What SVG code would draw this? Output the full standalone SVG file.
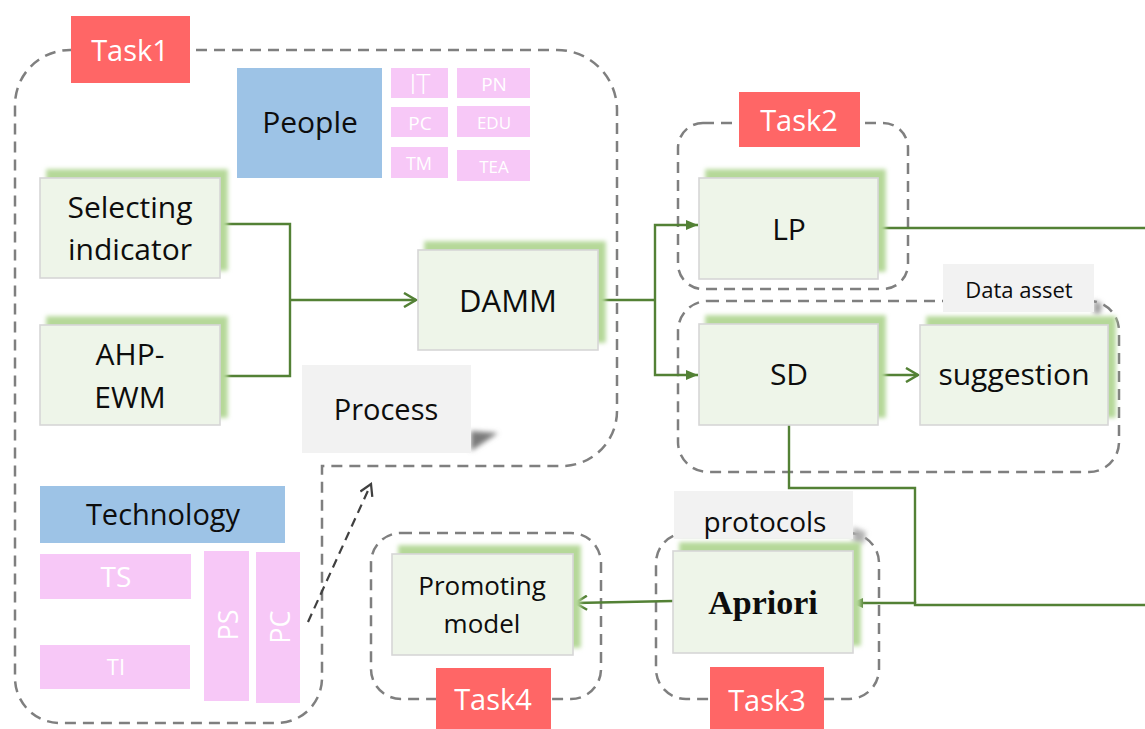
<svg xmlns="http://www.w3.org/2000/svg" width="1145" height="729" viewBox="0 0 1145 729">
  <defs>
    <style>
      .t { font-family: "Open Sans", "Liberation Sans", sans-serif; text-anchor: middle; fill: #0d0d0d; }
      .grp { fill: none; stroke: #7f7f7f; stroke-width: 2.5; stroke-dasharray: 11 7; }
      .box { fill: #eef5e9; stroke: #d6d6d6; stroke-width: 1.6; filter: url(#glow); }
      .tag { fill: #ff6666; }
      .tagtx { font-size: 29px; fill: #ffffff; }
      .blue { fill: #9dc3e6; }
      .pink { fill: #f7c8f7; }
      .pinktx { fill: #ffffff; }
      .note { fill: #f2f2f2; }
      .wire { fill: none; stroke: #538135; stroke-width: 2.4; }
      .big { font-size: 30px; }
    </style>
    <!-- soft green glow offset to the upper right of each step box -->
    <filter id="glow" x="-15%" y="-25%" width="135%" height="150%">
      <feFlood flood-color="#b5d899" result="c"/>
      <feComposite in="c" in2="SourceAlpha" operator="in" result="s"/>
      <feOffset in="s" dx="7" dy="-8" result="o"/>
      <feGaussianBlur in="o" stdDeviation="2" result="b"/>
      <feMerge>
        <feMergeNode in="b"/>
        <feMergeNode in="SourceGraphic"/>
      </feMerge>
    </filter>
    <filter id="soft" x="-50%" y="-50%" width="200%" height="200%">
      <feGaussianBlur stdDeviation="2.5"/>
    </filter>
    <marker id="open" viewBox="0 0 16 16" refX="14" refY="8" markerWidth="16" markerHeight="16" markerUnits="userSpaceOnUse" orient="auto">
      <path d="M2,1 L14,8 L2,15" fill="none" stroke="#538135" stroke-width="2.5"/>
    </marker>
    <marker id="solid" viewBox="0 0 12 12" refX="12" refY="6" markerWidth="13" markerHeight="12" markerUnits="userSpaceOnUse" orient="auto">
      <path d="M0,1 L12,6 L0,11 Z" fill="#538135"/>
    </marker>
    <marker id="gray" viewBox="0 0 16 16" refX="14" refY="8" markerWidth="15" markerHeight="15" markerUnits="userSpaceOnUse" orient="auto">
      <path d="M2,1 L14,8 L2,15" fill="none" stroke="#404040" stroke-width="2.4"/>
    </marker>
  </defs>

  <rect width="1145" height="729" fill="#ffffff"/>

  <!-- dashed task groups -->
  <g id="groups">
    <path class="grp" d="M70,50 H557 A60,60 0 0 1 617,110 V411 A55,55 0 0 1 562,466 H322 V678 A45,45 0 0 1 277,723 H60 A45,45 0 0 1 15,678 V105 A55,55 0 0 1 70,50 Z"/>
    <rect class="grp" x="678" y="123" width="230" height="166" rx="25"/>
    <rect class="grp" x="678" y="301" width="441" height="171" rx="30"/>
    <rect class="grp" x="656" y="533" width="223" height="166" rx="30"/>
    <rect class="grp" x="371" y="533" width="230" height="166" rx="30"/>
  </g>

  <!-- connectors -->
  <g id="connectors">
    <path class="wire" d="M220,224 H290 V376 H220"/>
    <path class="wire" d="M290,300 H416" marker-end="url(#open)"/>
    <path class="wire" d="M598,300 H655"/>
    <path class="wire" d="M655,300 V225 H698" marker-end="url(#solid)"/>
    <path class="wire" d="M655,300 V375 H698" marker-end="url(#solid)"/>
    <path class="wire" d="M878,375 H918" marker-end="url(#open)"/>
    <path class="wire" d="M875,228 H1145"/>
    <path class="wire" d="M789,425 V488 H915 V603"/>
    <path class="wire" d="M1145,605 H915 V603 H851" marker-end="url(#solid)"/>
    <path class="wire" d="M673,601 L575,603" marker-end="url(#open)"/>
    <path d="M308,622 L371,484" fill="none" stroke="#404040" stroke-width="2.2" stroke-dasharray="9 6" marker-end="url(#gray)"/>
  </g>

  <!-- Task 1 content -->
  <g id="task1-tag">
    <rect class="tag" x="71" y="16" width="119" height="67"/>
    <text class="t tagtx" x="130" y="61">Task1</text>
  </g>

  <g id="people">
    <rect class="blue" x="237" y="68" width="145" height="110"/>
    <text class="t" x="310" y="133" font-size="30">People</text>
  </g>
  <g id="people-IT">
    <rect class="pink" x="391" y="68" width="57" height="30"/>
    <text class="t pinktx" x="420" y="94" font-size="27" font-weight="300">IT</text>
  </g>
  <g id="people-PN">
    <rect class="pink" x="457" y="68" width="73" height="30"/>
    <text class="t pinktx" x="494" y="91" font-size="19">PN</text>
  </g>
  <g id="people-PC">
    <rect class="pink" x="391" y="107" width="57" height="30"/>
    <text class="t pinktx" x="420" y="130" font-size="19">PC</text>
  </g>
  <g id="people-EDU">
    <rect class="pink" x="457" y="106" width="73" height="31"/>
    <text class="t pinktx" x="494" y="129" font-size="17">EDU</text>
  </g>
  <g id="people-TM">
    <rect class="pink" x="391" y="147" width="57" height="31"/>
    <text class="t pinktx" x="419" y="170" font-size="18">TM</text>
  </g>
  <g id="people-TEA">
    <rect class="pink" x="457" y="150" width="73" height="31"/>
    <text class="t pinktx" x="494" y="173" font-size="17">TEA</text>
  </g>

  <g id="selecting-indicator">
    <rect class="box" x="40" y="178" width="180" height="100"/>
    <text class="t big" x="130" y="218">Selecting</text>
    <text class="t big" x="130" y="260">indicator</text>
  </g>
  <g id="ahp-ewm">
    <rect class="box" x="40" y="325" width="180" height="100"/>
    <text class="t big" x="130" y="365">AHP-</text>
    <text class="t big" x="130" y="408">EWM</text>
  </g>
  <g id="damm">
    <rect class="box" x="418" y="250" width="180" height="100"/>
    <text class="t" x="508" y="312" font-size="31">DAMM</text>
  </g>
  <g id="process">
    <path d="M471,431 L498,433 L471,451 Z" fill="#7a7a7a" filter="url(#soft)"/>
    <rect class="note" x="302" y="365" width="169" height="88"/>
    <text class="t" x="386" y="420" font-size="29">Process</text>
  </g>

  <g id="technology">
    <rect class="blue" x="40" y="486" width="245" height="57"/>
    <text class="t" x="163" y="525" font-size="29">Technology</text>
  </g>
  <g id="tech-TS">
    <rect class="pink" x="40" y="554" width="151" height="45"/>
    <text class="t pinktx" x="116" y="587" font-size="28">TS</text>
  </g>
  <g id="tech-TI">
    <rect class="pink" x="40" y="645" width="150" height="44"/>
    <text class="t pinktx" x="116" y="675" font-size="22">TI</text>
  </g>
  <g id="tech-PS">
    <rect class="pink" x="204" y="551" width="45" height="150"/>
    <text class="t pinktx" font-size="27" transform="translate(238,625) rotate(-90)">PS</text>
  </g>
  <g id="tech-PC">
    <rect class="pink" x="256" y="552" width="44" height="151"/>
    <text class="t pinktx" font-size="27" transform="translate(290,627) rotate(-90)">PC</text>
  </g>

  <!-- Task 2 content -->
  <g id="task2-tag">
    <rect class="tag" x="739" y="92" width="121" height="55"/>
    <text class="t tagtx" x="799" y="131">Task2</text>
  </g>
  <g id="lp">
    <rect class="box" x="699" y="178" width="179" height="101"/>
    <text class="t big" x="789" y="240">LP</text>
  </g>
  <g id="data-asset">
    <path d="M1094,300 L1102,304 L1100,314 L1094,314 Z" fill="#9a9a9a" filter="url(#soft)"/>
    <rect class="note" x="943" y="264" width="151" height="48"/>
    <text class="t" x="1019" y="298" font-size="22">Data asset</text>
  </g>
  <g id="sd">
    <rect class="box" x="699" y="324" width="179" height="101"/>
    <text class="t big" x="789" y="385">SD</text>
  </g>
  <g id="suggestion">
    <rect class="box" x="920" y="325" width="188" height="100"/>
    <text class="t big" x="1014" y="385">suggestion</text>
  </g>

  <!-- Task 3 content -->
  <g id="protocols">
    <path d="M853,527 L866,532 L864,543 L853,543 Z" fill="#b0b0b0" filter="url(#soft)"/>
    <rect class="note" x="674" y="491" width="179" height="48"/>
    <text class="t" x="765" y="532" font-size="28">protocols</text>
  </g>
  <g id="apriori">
    <rect class="box" x="673" y="551" width="180" height="102"/>
    <text x="763" y="614" font-family="'Liberation Serif', 'Times New Roman', serif" font-weight="bold" font-size="34" text-anchor="middle" fill="#0d0d0d">Apriori</text>
  </g>
  <g id="task3-tag">
    <rect class="tag" x="710" y="667" width="114" height="62"/>
    <text class="t tagtx" x="767" y="711">Task3</text>
  </g>

  <!-- Task 4 content -->
  <g id="promoting-model">
    <rect class="box" x="392" y="554" width="181" height="101"/>
    <text class="t" x="482" y="595" font-size="26">Promoting</text>
    <text class="t" x="482" y="633" font-size="26">model</text>
  </g>
  <g id="task4-tag">
    <rect class="tag" x="436" y="668" width="115" height="61"/>
    <text class="t tagtx" x="493" y="710">Task4</text>
  </g>
</svg>
